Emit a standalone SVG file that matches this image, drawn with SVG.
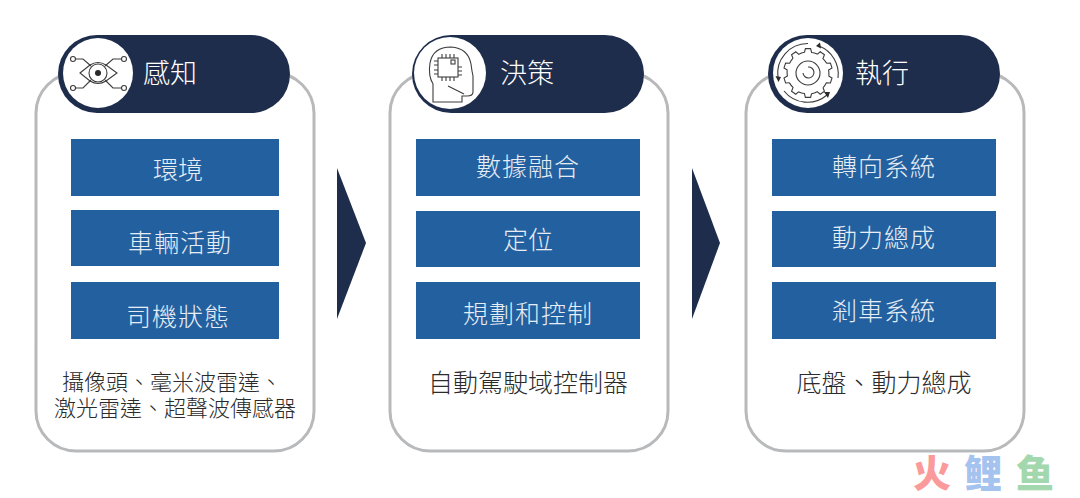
<svg xmlns="http://www.w3.org/2000/svg" xmlns:xlink="http://www.w3.org/1999/xlink" width="1080" height="498" viewBox="0 0 1080 498">
<style>
text{font-family:"Noto Sans CJK TC","Noto Sans CJK SC",sans-serif;text-anchor:middle}
.card{fill:#fff;stroke:#b7b9bb;stroke-width:3}
.pill{fill:#1f2d4d}
.hole{fill:#fff}
.box{fill:#23609f}
.h{font-size:27px;fill:#fff;font-weight:300;text-anchor:start}
.b{font-size:25px;fill:#e6edf5;font-weight:300}
.t{fill:#2b2b2b;font-weight:300}
.ic{fill:none;stroke:#3c3c3c;stroke-width:1.1}
.d{fill:#2a2a2a}
.arrow{fill:#1f2d4d}
</style>
<defs>
<path id="tooth" d="M-3.6,-20.5 L-2.6,-24.4 H2.6 L3.6,-20.5 A21,21 0 0 1 9.2,-18.9"/>
</defs>
<rect width="1080" height="498" fill="#fff"/>
<g id="connectors">
<polygon class="arrow" points="337,168 366,243 337,319"/>
<polygon class="arrow" points="692,168 720,243 692,319"/>
</g>
<g id="perception">
<rect class="card" x="36" y="73" width="278" height="378" rx="40"/>
<rect class="pill" x="58" y="35" width="232" height="78" rx="39"/>
<circle class="hole" cx="98" cy="73" r="35"/>
<g class="ic">
<path d="M80 73 L90 65 Q98 60 106 65 L117 73 L106 81 Q98 86 90 81 Z"/>
<circle cx="98" cy="73" r="9"/>
<path d="M75.500 59 H83 L91 66 M121.500 59 H113 L105 66 M75.500 88 H83 L91 80 M121.500 88 H113 L105 80"/>
<circle cx="73" cy="59" r="2.500"/><circle cx="124" cy="59" r="2.500"/><circle cx="73" cy="88" r="2.500"/><circle cx="124" cy="88" r="2.500"/>
</g>
<circle class="d" cx="98" cy="73" r="3"/>
<text class="h" x="143" y="83">感知</text>
<rect class="box" x="71" y="139" width="208" height="57"/>
<text class="b" x="178" y="179">環境</text>
<rect class="box" x="71" y="210" width="208" height="56"/>
<text class="b" x="180" y="252" letter-spacing="1">車輛活動</text>
<rect class="box" x="71" y="282" width="208" height="57"/>
<text class="b" x="178" y="326" letter-spacing="1">司機狀態</text>
<text class="t" font-size="22"><tspan x="172" y="390">攝像頭、毫米波雷達、</tspan><tspan x="175" y="416">激光雷達、超聲波傳感器</tspan></text>
</g>
<g id="decision">
<rect class="card" x="390" y="73" width="278" height="378" rx="40"/>
<rect class="pill" x="412" y="35" width="232" height="78" rx="39"/>
<circle class="hole" cx="450" cy="73" r="36"/>
<path class="ic" d="M433 102 V84 Q428 76 430 63 Q433 47 451 47 Q468 48 471 64 L472 71 L473 76 L473 85 V92 Q473 96 467 96 L462 96 V102 Z M448 86 L464 94"/>
<rect class="ic" x="438" y="58" width="20" height="19"/>
<rect class="ic" x="451" y="60" width="4" height="4"/>
<path class="ic" d="M442 58 V54 M446 58 V54 M450 58 V54 M454 58 V54 M442 77 V81 M446 77 V81 M450 77 V81 M454 77 V81 M438 61 H434 M438 65 H434 M438 70 H434 M438 74 H434 M458 67 H462 M458 71 H462 M458 75 H462"/>
<text class="h" x="500" y="83">決策</text>
<rect class="box" x="416" y="139" width="224" height="57"/>
<text class="b" x="528" y="176" letter-spacing="1">數據融合</text>
<rect class="box" x="416" y="211" width="224" height="56"/>
<text class="b" x="528" y="249">定位</text>
<rect class="box" x="416" y="282" width="224" height="57"/>
<text class="b" x="528" y="323" letter-spacing="1">規劃和控制</text>
<text class="t" x="528" y="392" font-size="25">自動駕駛域控制器</text>
</g>
<g id="execution">
<rect class="card" x="746" y="73" width="278" height="378" rx="40"/>
<rect class="pill" x="768" y="35" width="232" height="78" rx="39"/>
<circle class="hole" cx="808" cy="73" r="35"/>
<g class="ic" transform="translate(808 73)">
<use xlink:href="#tooth" href="#tooth"/>
<use xlink:href="#tooth" href="#tooth" transform="rotate(36)"/>
<use xlink:href="#tooth" href="#tooth" transform="rotate(72)"/>
<use xlink:href="#tooth" href="#tooth" transform="rotate(108)"/>
<use xlink:href="#tooth" href="#tooth" transform="rotate(144)"/>
<use xlink:href="#tooth" href="#tooth" transform="rotate(180)"/>
<use xlink:href="#tooth" href="#tooth" transform="rotate(216)"/>
<use xlink:href="#tooth" href="#tooth" transform="rotate(252)"/>
<use xlink:href="#tooth" href="#tooth" transform="rotate(288)"/>
<use xlink:href="#tooth" href="#tooth" transform="rotate(324)"/>
</g>
<circle class="ic" cx="808" cy="73" r="12"/>
<path class="ic" d="M803 73 A5.500 5.500 0 1 0 808 67"/>
<path class="ic" d="M808 43.500 A30 30 0 0 0 778 78 M838 78 A30 30 0 0 0 819 46 M784 91 A30 30 0 0 0 827 95"/>
<path class="d" d="M775.500 76 L781 77 L778.500 82 Z M816 46 L820 42.500 L821 48.500 Z M824 92 L830 92 L828 98 Z"/>
<text class="h" x="855" y="83">執行</text>
<rect class="box" x="772" y="139" width="224" height="57"/>
<text class="b" x="884" y="176" letter-spacing="1">轉向系統</text>
<rect class="box" x="772" y="211" width="224" height="56"/>
<text class="b" x="884" y="247" letter-spacing="1">動力總成</text>
<rect class="box" x="772" y="282" width="224" height="57"/>
<text class="b" x="884" y="320" letter-spacing="1">剎車系統</text>
<text class="t" x="884" y="392" font-size="25">底盤、動力總成</text>
</g>
<g id="watermark" font-weight="900" font-size="38">
<text x="932" y="487" fill="#fb9a9a">火</text>
<text x="983" y="487" fill="#a4c3ef">鲤</text>
<text x="1035" y="487" fill="#a3d7ad">鱼</text>
</g>
</svg>
